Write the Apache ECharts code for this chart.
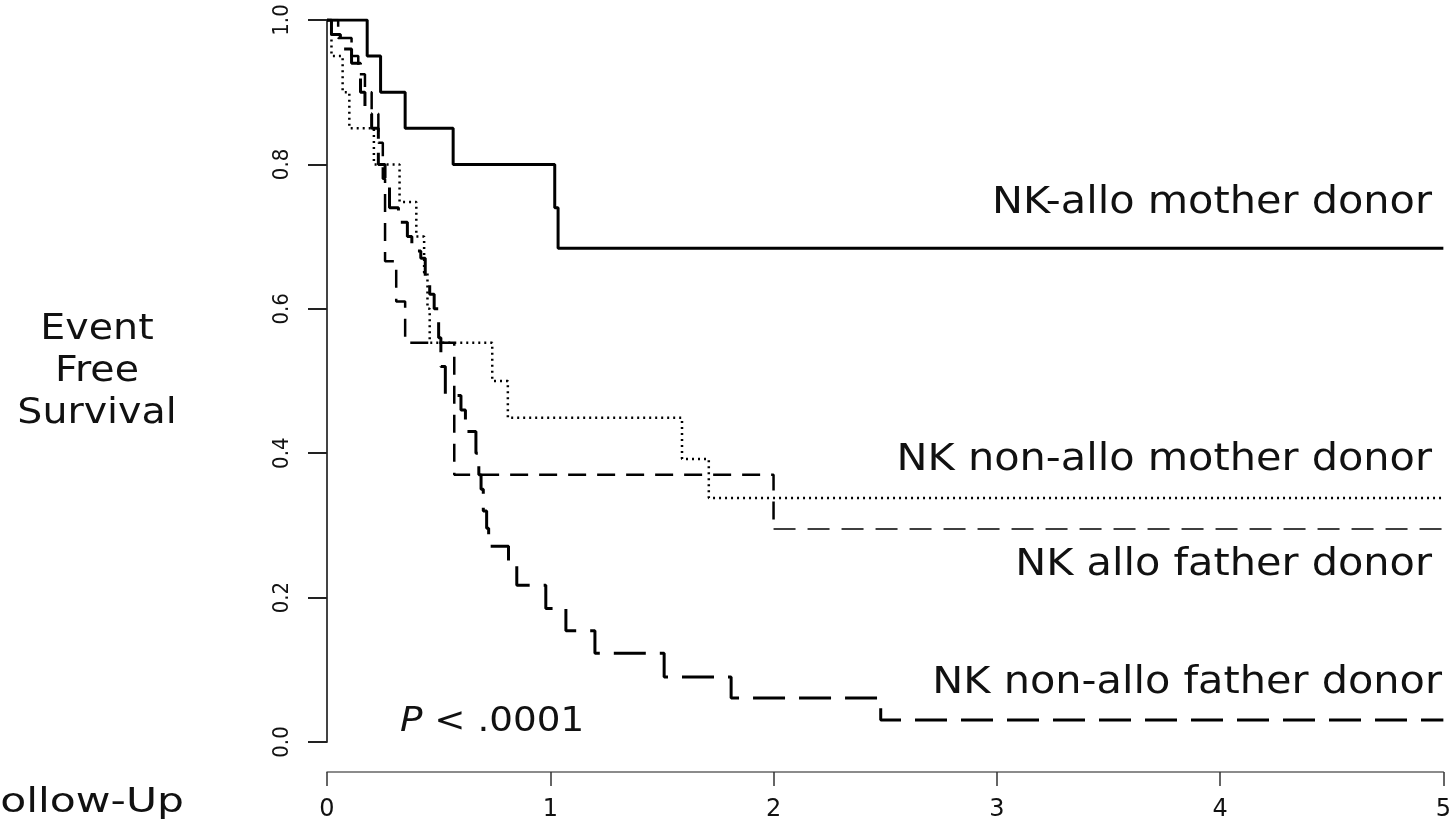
<!DOCTYPE html>
<html>
<head>
<meta charset="utf-8">
<script src="https://cdn.jsdelivr.net/npm/echarts@6/dist/echarts.min.js"></script>
<style>
html,body{margin:0;padding:0;background:#fff;}
#chart{width:1454px;height:826px;}
</style>
</head>
<body>
<div id="chart"></div>
<script>
// axis ticks
var yearTicks = [0, 1, 2, 3, 4, 5];
var survTicks = [0, 0.2, 0.4, 0.6, 0.8, 1.0];

// step curves: time (years) where the step starts, survival after it
var motherAlloTime = [0, 0.18, 0.24, 0.35, 0.565, 1.02, 1.035, 5];
var motherAlloSurv = [1.0, 0.95, 0.90, 0.85, 0.80, 0.74, 0.684, 0.684];

var motherNonAlloTime = [0, 0.02, 0.07, 0.10, 0.21, 0.325, 0.40, 0.435, 0.45, 0.46, 0.74, 0.81, 1.59, 1.71, 5];
var motherNonAlloSurv = [1.0, 0.95, 0.90, 0.85, 0.80, 0.748, 0.70, 0.65, 0.60, 0.553, 0.50, 0.449, 0.392, 0.338, 0.338];

var fatherAlloTime = [0, 0.05, 0.11, 0.14, 0.17, 0.20, 0.23, 0.25, 0.26, 0.31, 0.35, 0.57, 2.0, 5];
var fatherAlloSurv = [1.0, 0.975, 0.95, 0.925, 0.90, 0.87, 0.83, 0.78, 0.666, 0.61, 0.553, 0.37, 0.295, 0.295];

var fatherNonAlloTime = [0, 0.02, 0.06, 0.11, 0.15, 0.17, 0.20, 0.23, 0.26, 0.28, 0.32, 0.36, 0.38, 0.42, 0.44, 0.46, 0.48, 0.50, 0.51, 0.53, 0.60, 0.62, 0.667, 0.68, 0.69, 0.70, 0.715, 0.724, 0.813, 0.85, 0.98, 1.07, 1.20, 1.51, 1.81, 2.48, 5];
var fatherNonAlloSurv = [1.0, 0.98, 0.96, 0.94, 0.90, 0.87, 0.85, 0.80, 0.77, 0.74, 0.72, 0.70, 0.68, 0.67, 0.645, 0.62, 0.60, 0.56, 0.52, 0.48, 0.46, 0.43, 0.40, 0.37, 0.35, 0.32, 0.296, 0.271, 0.245, 0.217, 0.185, 0.154, 0.123, 0.09, 0.061, 0.0305, 0.0305];

function pairs(t, s){
	var out = [];
	for(var i=0;i<t.length;i++){
		out.push([t[i], s[i]]);
	}
	return out;
}

function curve(name, data, type, width){
	return {
		name: name,
		type: 'line',
		step: 'end',
		symbol: 'none',
		data: data,
		lineStyle: { color: '#000', width: width, type: type, cap: 'butt' }
	};
}

// the allo father tail after its last drop is drawn thinner in the original
var fatherAlloData = pairs(fatherAlloTime, fatherAlloSurv);
var fatherAlloHead = fatherAlloData.slice(0, fatherAlloData.length - 1);
var fatherAlloTail = fatherAlloData.slice(fatherAlloData.length - 2);
fatherAlloHead.push([fatherAlloTail[0][0], fatherAlloHead[fatherAlloHead.length - 1][1]]);

var font = 'DejaVu Sans';

function label(text, x, y, size, sx, align){
	return {
		type: 'text', x: x, y: y, scaleX: sx,
		style: { text: text, font: size + 'px "DejaVu Sans"', fill: '#111', align: align || 'right', verticalAlign: 'middle' }
	};
}

var myChart = echarts.init(document.getElementById('chart'));

var option = {
	animation: false,
	backgroundColor: '#fff',
	grid: { left: 327, right: 2, top: 20, bottom: 84, containLabel: false },
	xAxis: {
		type: 'value',
		min: 0, max: 5, interval: 1,
		offset: 30,
		splitLine: { show: false },
		axisLine: { show: true, onZero: false, lineStyle: { color: '#666', width: 1.5 } },
		axisTick: { show: true, length: 14, lineStyle: { color: '#333', width: 1.5 } },
		axisLabel: {
			margin: 26, fontFamily: font, fontSize: 24, color: '#111',
			customValues: yearTicks
		}
	},
	yAxis: {
		type: 'value',
		min: 0, max: 1, interval: 0.2,
		splitLine: { show: false },
		axisLine: { show: true, lineStyle: { color: '#444', width: 2 } },
		axisTick: { show: true, length: 19, lineStyle: { color: '#222', width: 2 } },
		axisLabel: {
			rotate: 90, margin: 34, fontFamily: 'DejaVu Sans Condensed', fontSize: 22, color: '#111',
			customValues: survTicks,
			formatter: function(v){ return v.toFixed(1); }
		}
	},
	series: [
		curve('NK-allo mother donor', pairs(motherAlloTime, motherAlloSurv), 'solid', 3),
		curve('NK non-allo mother donor', pairs(motherNonAlloTime, motherNonAlloSurv), [2, 4], 2.5),
		curve('NK allo father donor', fatherAlloHead, [18, 11], 2.5),
		curve('NK allo father donor', fatherAlloTail, [22, 12], 1.3),
		curve('NK non-allo father donor', pairs(fatherNonAlloTime, fatherNonAlloSurv), [32, 14], 3)
	],
	graphic: [
		label('NK-allo mother donor', 1432, 203, 37, 1.12),
		label('NK non-allo mother donor', 1432, 460, 37, 1.12),
		label('NK allo father donor', 1432, 565, 37, 1.12),
		label('NK non-allo father donor', 1442, 683, 37, 1.12),
		{ type: 'text', x: 400, y: 722, scaleX: 1.13, style: {
			text: '{i|P} < .0001', align: 'left', verticalAlign: 'middle',
			font: '33px "DejaVu Sans"', fill: '#111',
			rich: { i: { fontStyle: 'italic', fontFamily: font, fontSize: 33, fill: '#111' } }
		} },
		{ type: 'text', x: 97, y: 372, scaleX: 1.13, style: { text: 'Event\nFree\nSurvival', font: '35px "DejaVu Sans"', lineHeight: 42, fill: '#111', align: 'center', verticalAlign: 'middle' } },
		label('Follow-Up', 184, 803, 34, 1.25)
	]
};

myChart.setOption(option);
</script>
</body>
</html>
